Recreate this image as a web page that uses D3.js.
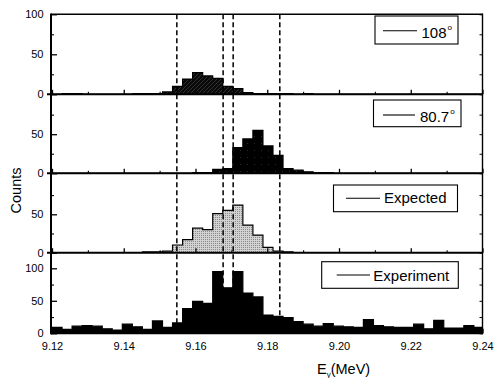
<!DOCTYPE html>
<html><head><meta charset="utf-8">
<script src="https://cdn.jsdelivr.net/npm/d3@7"></script>
<style>
html,body{margin:0;padding:0;background:#fff;}
svg{display:block;}
text{font-family:"Liberation Sans",Arial,Helvetica,sans-serif;fill:#000;}
</style>
</head><body>
<svg id="c" width="496" height="378"></svg>
<script>
// ---------- DATA ----------
const binEdges = [9.1200,9.1228,9.1256,9.1284,9.1312,9.1340,9.1368,9.1396,9.1424,9.1452,
  9.1480,9.1508,9.1536,9.1564,9.1592,9.1620,9.1648,9.1676,9.1704,9.1732,
  9.1760,9.1788,9.1816,9.1844,9.1872,9.1900,9.1928,9.1956,9.1984,9.2012,
  9.2040,9.2068,9.2096,9.2124,9.2152,9.2180,9.2208,9.2236,9.2264,9.2292,
  9.2320,9.2348,9.2376,9.2404];
const counts108 = [0,1,1,0,0,0,0,0,1,1, 1,3,10,19,27,23,20,10,7,2, 1,1,1,1,0,1,0,0,0,0, 0,0,0,0,0,0,0,0,0,0, 0,0,0];
const counts807 = [0,0,0,0,0,0,0,0,0,0, 0,0,0,0,1,1,5,6,33,44, 55,35,23,6,4,2,1,1,0,0, 0,0,0,0,0,0,0,0,0,0, 0,0,0];
const countsExpected = [0,0,0,0,0,0,0,0,0,1, 1,2,10,17,32,30,51,55,62,36, 23,7,2,1,0,0,0,0,0,0, 0,0,0,0,0,0,0,0,0,0, 0,0,0];
const countsExperiment = [9,6,11,12,11,7,5,14,10,6, 19,9,16,38,49,46,95,70,95,62, 56,28,26,24,18,14,11,15,11,10, 9,21,12,10,9,9,14,7,20,8, 8,12,9];
const legendLabels = ["108", "80.7", "Expected", "Experiment"];
const legendSup = [true, true, false, false];
const markerLines = [9.1548, 9.1677, 9.1705, 9.1835];
const xTicksMajor = [9.12, 9.14, 9.16, 9.18, 9.20, 9.22, 9.24];
const xTickLabels = ["9.12", "9.14", "9.16", "9.18", "9.20", "9.22", "9.24"];
const xTicksMinor = [9.13, 9.15, 9.17, 9.19, 9.21, 9.23];
const yTicksLabeled = [[0, 50, 100], [0, 50], [0, 50], [0, 50, 100]];
const yTicksMinor = [25, 75];

// ---------- LAYOUT ----------
const svg = d3.select("#c");
const X0 = 51, X1 = 482.5;
const x = d3.scaleLinear().domain([9.12, 9.24]).range([52, 482.5]);

const panels = [
  {vals: counts108, y0: 94.3, y1: 14.3, max: 100, fill: "url(#hatch)",
   lg: {bx: 375, by: 16, bw: 83, bh: 28, lx1: 383, lx2: 417, ly: 30.7, tx: 421.5, ty: 37.5}},
  {vals: counts807, y0: 173.3, y1: 94.3, max: 101, fill: "url(#dark)",
   lg: {bx: 373.5, by: 100, bw: 87.5, bh: 26.7, lx1: 383, lx2: 415, ly: 115, tx: 420, ty: 122}},
  {vals: countsExpected, y0: 252.7, y1: 173.3, max: 103.4, fill: "url(#stipple)",
   lg: {bx: 333.5, by: 185, bw: 124, bh: 26.7, lx1: 346, lx2: 380, ly: 198.3, tx: 384, ty: 202.5}},
  {vals: countsExperiment, y0: 333.3, y1: 252.7, max: 124, fill: "#000",
   lg: {bx: 321.7, by: 261.7, bw: 136.6, bh: 26.6, lx1: 336.7, lx2: 370, ly: 275, tx: 373.3, ty: 281}}
];

// patterns
const defs = svg.append("defs");
const hatch = defs.append("pattern").attr("id", "hatch").attr("patternUnits", "userSpaceOnUse")
  .attr("width", 4).attr("height", 4);
hatch.append("rect").attr("width", 4).attr("height", 4).attr("fill", "#0a0a0a");
hatch.append("path").attr("d", "M0,4 L4,0").attr("stroke", "#4a4a4a").attr("stroke-width", 0.6);
const dark = defs.append("pattern").attr("id", "dark").attr("patternUnits", "userSpaceOnUse")
  .attr("width", 7).attr("height", 7);
dark.append("rect").attr("width", 7).attr("height", 7).attr("fill", "#000");
dark.append("rect").attr("x", 2).attr("y", 3).attr("width", 1).attr("height", 1).attr("fill", "#2a2a2a");
const stip = defs.append("pattern").attr("id", "stipple").attr("patternUnits", "userSpaceOnUse")
  .attr("width", 2).attr("height", 2);
stip.append("rect").attr("width", 2).attr("height", 2).attr("fill", "#d2d2d2");
stip.append("rect").attr("x", 1).attr("y", 1).attr("width", 1).attr("height", 1).attr("fill", "#8a8a8a");

panels.forEach((p, i) => {
  defs.append("clipPath").attr("id", "clip" + i).append("rect")
    .attr("x", X0).attr("y", p.y1).attr("width", X1 - X0).attr("height", p.y0 - p.y1);
});

// histograms
panels.forEach((p, i) => {
  const y = d3.scaleLinear().domain([0, p.max]).range([p.y0, p.y1]);
  p.y = y;
  const pts = p.vals.map((v, k) => [binEdges[k], v]);
  pts.push([binEdges[binEdges.length - 1], p.vals[p.vals.length - 1]]);
  const area = d3.area().x(d => x(d[0])).y0(y(0)).y1(d => y(d[1])).curve(d3.curveStepAfter);
  svg.append("path").attr("clip-path", `url(#clip${i})`)
    .attr("d", area(pts)).attr("fill", p.fill)
    .attr("stroke", "#000").attr("stroke-width", 1.2).attr("stroke-linejoin", "miter");
});

// dashed marker lines
svg.append("g").selectAll("line").data(markerLines).join("line")
  .attr("x1", d => x(d)).attr("x2", d => x(d))
  .attr("y1", 14.3).attr("y2", 333.3)
  .attr("stroke", "#000").attr("stroke-width", 1.5).attr("stroke-dasharray", "5,3");

// axes and ticks
panels.forEach((p, i) => {
  const y = p.y;
  const gl = svg.append("g").attr("transform", `translate(${X0},0)`)
    .call(d3.axisLeft(y).tickValues(yTicksLabeled[i]).tickSize(-6).tickPadding(7.5).tickFormat(d3.format("d")));
  gl.select(".domain").remove();
  gl.selectAll("line").attr("stroke", "#000").attr("stroke-width", 1.3);
  gl.selectAll("text").attr("font-size", 11).attr("font-family", '"Liberation Sans",Arial,sans-serif');
  const gm = svg.append("g").attr("transform", `translate(${X0},0)`)
    .call(d3.axisLeft(y).tickValues(yTicksMinor).tickSize(-3).tickFormat(""));
  gm.select(".domain").remove();
  gm.selectAll("line").attr("stroke", "#000").attr("stroke-width", 1.1);
  const gr = svg.append("g").attr("transform", `translate(${X1},0)`)
    .call(d3.axisRight(y).tickValues(yTicksLabeled[i].concat(yTicksMinor)).tickSize(-3).tickFormat(""));
  gr.select(".domain").remove();
  gr.selectAll("line").attr("stroke", "#000").attr("stroke-width", 1);
  const last = i === panels.length - 1;
  const gx = svg.append("g").attr("transform", `translate(0,${p.y0})`)
    .call(d3.axisBottom(x).tickValues(xTicksMajor).tickSize(-4.5).tickPadding(9)
      .tickFormat((d, k) => last ? xTickLabels[k] : ""));
  gx.select(".domain").remove();
  gx.selectAll("line").attr("stroke", "#000").attr("stroke-width", 1.3);
  gx.selectAll("text").attr("font-size", 11).attr("font-family", '"Liberation Sans",Arial,sans-serif');
  const gxm = svg.append("g").attr("transform", `translate(0,${p.y0})`)
    .call(d3.axisBottom(x).tickValues(xTicksMinor).tickSize(-2.5).tickFormat(""));
  gxm.select(".domain").remove();
  gxm.selectAll("line").attr("stroke", "#000").attr("stroke-width", 1.1);
  svg.append("line").attr("x1", last ? X0 : X0 - 4).attr("x2", X1)
    .attr("y1", p.y0).attr("y2", p.y0).attr("stroke", "#000").attr("stroke-width", 2);
});

// frame
svg.append("line").attr("x1", X0).attr("x2", X1).attr("y1", 14.3).attr("y2", 14.3)
  .attr("stroke", "#000").attr("stroke-width", 1.6);
svg.append("line").attr("x1", X0).attr("x2", X0).attr("y1", 13.5).attr("y2", 334.3)
  .attr("stroke", "#000").attr("stroke-width", 2);
svg.append("line").attr("x1", X1).attr("x2", X1).attr("y1", 13.5).attr("y2", 334.3)
  .attr("stroke", "#000").attr("stroke-width", 1.4);

// legends
panels.forEach((p, i) => {
  const L = p.lg;
  const g = svg.append("g");
  g.append("rect").attr("x", L.bx).attr("y", L.by).attr("width", L.bw).attr("height", L.bh)
    .attr("fill", "#fff").attr("stroke", "#000").attr("stroke-width", 1.1);
  g.append("line").attr("x1", L.lx1).attr("x2", L.lx2).attr("y1", L.ly).attr("y2", L.ly)
    .attr("stroke", "#000").attr("stroke-width", 1.1);
  const t = g.append("text").attr("x", L.tx).attr("y", L.ty).attr("font-size", 15);
  t.append("tspan").text(legendLabels[i]);
  if (legendSup[i]) t.append("tspan").attr("font-size", 8).attr("dx", 1).attr("dy", -8).text("o");
});

// axis titles
svg.append("text").attr("transform", "translate(20.5,190.5) rotate(-90)")
  .attr("text-anchor", "middle").attr("font-size", 14.5).text("Counts");
const xt = svg.append("text").attr("x", 317).attr("y", 374).attr("font-size", 14.5);
xt.append("tspan").text("E");
xt.append("tspan").attr("font-size", 8).attr("dy", 3).text("γ");
xt.append("tspan").attr("dy", -3).text("(MeV)");
</script>
</body></html>
